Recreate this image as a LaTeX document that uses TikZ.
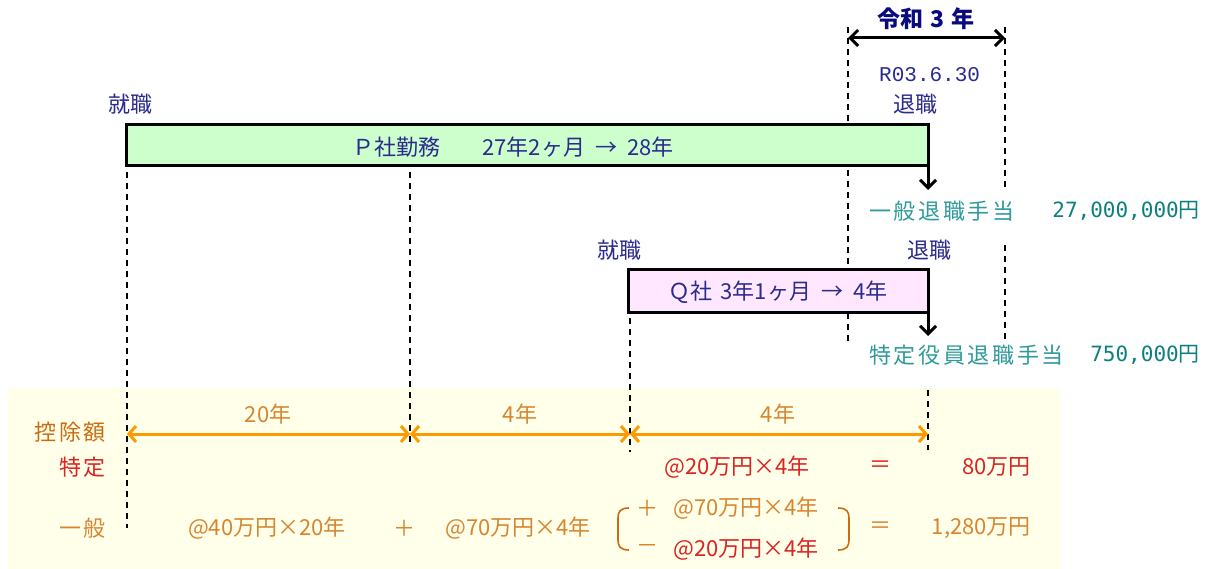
\documentclass[tikz,border=0pt]{standalone}
\usepackage{fontspec}
\setmainfont{Noto Sans CJK JP}
\newfontfamily\jpwide[LetterSpace=12]{Noto Sans CJK JP}
\newfontfamily\monoA{DejaVu Sans Mono}
\newfontfamily\monoB{Liberation Mono}
\usetikzlibrary{arrows.meta}
\definecolor{navy}{HTML}{2B2B8E}
\definecolor{dnavy}{HTML}{0A0A80}
\definecolor{tealA}{HTML}{2E9A9A}
\definecolor{tealB}{HTML}{0E7F7F}
\definecolor{orgT}{HTML}{D98530}
\definecolor{orgD}{HTML}{CC6A10}
\definecolor{orgL}{HTML}{FF9900}
\definecolor{redT}{HTML}{DD2222}
\definecolor{greenF}{HTML}{CCFFCC}
\definecolor{pinkF}{HTML}{FFE8FF}
\definecolor{yellowF}{HTML}{FFFFEA}
\begin{document}
\begin{tikzpicture}[x=1pt,y=-1pt,
  base/.style={inner sep=0pt, font=\fontsize{22}{26}\selectfont},
  nv/.style={base, text=navy},
  tl/.style={base, text=tealA},
  tld/.style={base, text=tealB},
  og/.style={base, text=orgT},
  rd/.style={base, text=redT},
  guide/.style={line width=1.6pt, dash pattern=on 6pt off 5pt},
  blkarrow/.style={line width=3pt, -{Straight Barb[length=8pt,width=16pt]}},
  orgarrow/.style={line width=3pt, orgL, {Straight Barb[length=7pt,width=16pt]}-{Straight Barb[length=7pt,width=16pt]}},
  boxstyle/.style={draw, line width=3pt, inner sep=0pt, outer sep=0pt}]
\useasboundingbox (0,0) rectangle (1205,569);
\fill[yellowF] (8,388) rectangle (1060,569);

% guide coordinates
\coordinate (gA1) at (848,27);  \coordinate (gA2) at (848,345);
\coordinate (gB1) at (1005,27); \coordinate (gB2) at (1005,188);
\coordinate (gB3) at (1005,245); \coordinate (gB4) at (1005,343);
\coordinate (gC1) at (127,172); \coordinate (gC2) at (127,528);
\coordinate (gD1) at (410,172); \coordinate (gD2) at (410,445);
\coordinate (gE1) at (630,318); \coordinate (gE2) at (630,452);
\coordinate (gF1) at (928,390); \coordinate (gF2) at (928,450);
\draw[guide] (gA1) -- (gA2);
\draw[guide] (gB1) -- (gB2);
\draw[guide] (gB3) -- (gB4);
\draw[guide] (gC1) -- (gC2);
\draw[guide] (gD1) -- (gD2);
\draw[guide] (gE1) -- (gE2);
\draw[guide] (gF1) -- (gF2);

% Reiwa 3
\coordinate (yL) at (848,38); \coordinate (yR) at (1005,38);
\draw[line width=3pt, {Straight Barb[length=8pt,width=16pt]}-{Straight Barb[length=8pt,width=16pt]}] (yL) -- (yR);
\node[base, text=dnavy, font=\fontsize{23}{26}\selectfont\bfseries] (reiwa) at (926,19) {令和\hspace{7pt}3\hspace{7pt}年};
\node[nv, anchor=west, font=\monoB\fontsize{21}{24}\selectfont] (rdate) at (879,75) {R03.6.30};

% P box
\node[boxstyle, fill=greenF, minimum width=802pt, minimum height=41pt] (P) at (527,145.5) {};
\node[nv] (Ptxt) at (513,147) {Ｐ社勤務\hspace{42pt}27年2ヶ月\hspace{10pt}→\hspace{10pt}28年};
\node[nv, anchor=west] (pstart) at (108,104) {就職};
\node[nv, anchor=west] (pend) at (893,104) {退職};
\coordinate (Parr) at (928,190);
\draw[blkarrow] (P.south east) -- (Parr);

\node[tl, anchor=west, font=\jpwide\fontsize{22}{26}\selectfont] (ippan) at (869,211) {一般退職手当};
\node[tld, anchor=east, font=\monoA\fontsize{21}{24}\selectfont] (ippanv) at (1200,211) {27,000,000\textrm{円}};

% Q box
\node[boxstyle, fill=pinkF, minimum width=300pt, minimum height=43pt] (Q) at (778,291.5) {};
\node[nv] (Qtxt) at (778,292) {Ｑ社\hspace{8pt}3年1ヶ月\hspace{10pt}→\hspace{10pt}4年};
\node[nv, anchor=west] (qstart) at (597,250) {就職};
\node[nv, anchor=west] (qend) at (907,250) {退職};
\coordinate (Qarr) at (928,336);
\draw[blkarrow] (Q.south east) -- (Qarr);

\node[tl, anchor=west, font=\jpwide\fontsize{22}{26}\selectfont] (tokutei) at (869,355) {特定役員退職手当};
\node[tld, anchor=east, font=\monoA\fontsize{21}{24}\selectfont] (tokuteiv) at (1200,355) {750,000\textrm{円}};

% deduction section
\node[base, text=orgD, anchor=east, font=\jpwide\fontsize{22}{26}\selectfont] (koujo) at (106,432) {控除額};
\node[rd, anchor=east, font=\jpwide\fontsize{22}{26}\selectfont] (tk) at (106,467) {特定};
\node[og, anchor=east, font=\jpwide\fontsize{22}{26}\selectfont] (ip) at (106,528) {一般};

\coordinate (a0) at (127,434); \coordinate (a1) at (410,434);
\coordinate (a2) at (630,434); \coordinate (a3) at (928,434);
\draw[orgarrow] (a0) -- (a1);
\draw[orgarrow] (a1) -- (a2);
\draw[orgarrow] (a2) -- (a3);
\node[og] (l20) at (268,414) {20年};
\node[og] (l4a) at (520,414) {4年};
\node[og] (l4b) at (778,414) {4年};

\node[rd] (tkf) at (737,467) {@20万円×4年};
\node[rd] (tkeq) at (880,467) {＝};
\node[rd, anchor=east] (tkr) at (1031,467) {80万円};

\node[og] (g1) at (267,528) {@40万円×20年};
\node[og] (gp) at (404,528) {＋};
\node[og] (g2) at (518,528) {@70万円×4年};
\node[og] (bp) at (647,508) {＋};
\node[og, anchor=west] (b1) at (673,508) {@70万円×4年};
\node[og] (bm) at (647,549) {－};
\node[rd, anchor=west] (b2) at (673,549) {@20万円×4年};
\node[og] (geq) at (880,528) {＝};
\node[og, anchor=east] (gr) at (1031,528) {1,280万円};

\draw[orgD, line width=1.6pt] (629,508) .. controls (620,508) and (618,512) .. (618,518) -- (618,540) .. controls (618,546) and (620,550) .. (629,550);
\draw[orgD, line width=1.6pt] (838,508) .. controls (847,508) and (849,512) .. (849,518) -- (849,540) .. controls (849,546) and (847,550) .. (838,550);
\end{tikzpicture}
\end{document}
